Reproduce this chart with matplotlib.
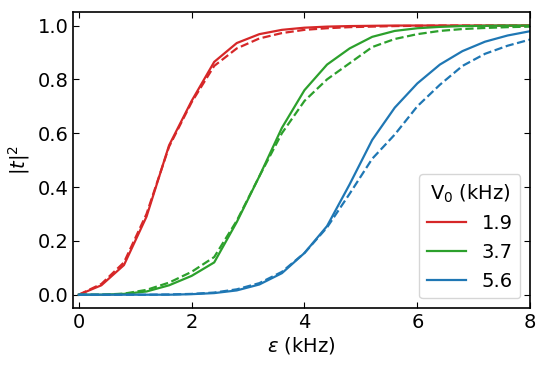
import matplotlib
matplotlib.use("Agg")
from matplotlib import pyplot as plt

# detuning grid (kHz)
eps = [0.0, 0.4, 0.8, 1.2, 1.6, 2.0, 2.4, 2.8, 3.2, 3.6, 4.0,
       4.4, 4.8, 5.2, 5.6, 6.0, 6.4, 6.8, 7.2, 7.6, 8.0]

# transmission, solid = full model, dashed = approximation
red_solid = [0.0, 0.035, 0.11, 0.29, 0.555, 0.72, 0.865, 0.935, 0.968, 0.984, 0.992,
             0.996, 0.998, 0.999, 1.0, 1.0, 1.0, 1.0, 1.0, 1.0, 1.0]
red_dash = [0.0, 0.04, 0.12, 0.30, 0.55, 0.715, 0.85, 0.915, 0.952, 0.972, 0.984,
            0.99, 0.994, 0.996, 0.998, 0.999, 1.0, 1.0, 1.0, 1.0, 1.0]
green_solid = [0.0, 0.0, 0.003, 0.012, 0.035, 0.07, 0.12, 0.27, 0.44, 0.62, 0.76,
               0.855, 0.915, 0.958, 0.98, 0.99, 0.995, 0.998, 0.999, 1.0, 1.0]
green_dash = [0.0, 0.0, 0.004, 0.018, 0.045, 0.085, 0.14, 0.275, 0.44, 0.60, 0.72,
              0.80, 0.86, 0.92, 0.95, 0.968, 0.98, 0.987, 0.991, 0.994, 0.996]
blue_solid = [0.0, 0.0, 0.0, 0.0, 0.0, 0.002, 0.006, 0.016, 0.038, 0.08, 0.155,
              0.255, 0.41, 0.575, 0.695, 0.785, 0.855, 0.905, 0.94, 0.963, 0.979]
blue_dash = [0.0, 0.0, 0.0, 0.0, 0.001, 0.003, 0.008, 0.02, 0.043, 0.085, 0.155,
             0.25, 0.375, 0.505, 0.595, 0.70, 0.78, 0.85, 0.895, 0.925, 0.948]

v0_labels = ["1.9", "3.7", "5.6"]
colors = ["tab:red", "tab:green", "tab:blue"]

fig = plt.figure(figsize=(5.46, 3.66), dpi=100)
ax = fig.add_axes([0.134, 0.158, 0.837, 0.809])

solids = [red_solid, green_solid, blue_solid]
dashes = [red_dash, green_dash, blue_dash]
for lab, c, s, d in zip(v0_labels, colors, solids, dashes):
    ax.plot(eps, s, "-", color=c, lw=1.6, label=lab)
    ax.plot(eps, d, "--", color=c, lw=1.6)

ax.set_xlim(-0.1, 8)
ax.set_ylim(-0.05, 1.05)
ax.set_xticks([0, 2, 4, 6, 8])
ax.set_yticks([0.0, 0.2, 0.4, 0.6, 0.8, 1.0])
ax.tick_params(direction="in", top=True, right=True, labelsize=14, length=4)
ax.set_xlabel(r"$\varepsilon$ (kHz)", fontsize=14, labelpad=2)
ax.set_ylabel(r"$|t|^2$", fontsize=14, labelpad=4)
for sp in ax.spines.values():
    sp.set_linewidth(1.2)

leg = ax.legend(title=r"V$_0$ (kHz)", loc="lower right", fontsize=14,
                title_fontsize=14, handlelength=2.0, borderaxespad=0.5)

fig.savefig("out.png", dpi=100)
